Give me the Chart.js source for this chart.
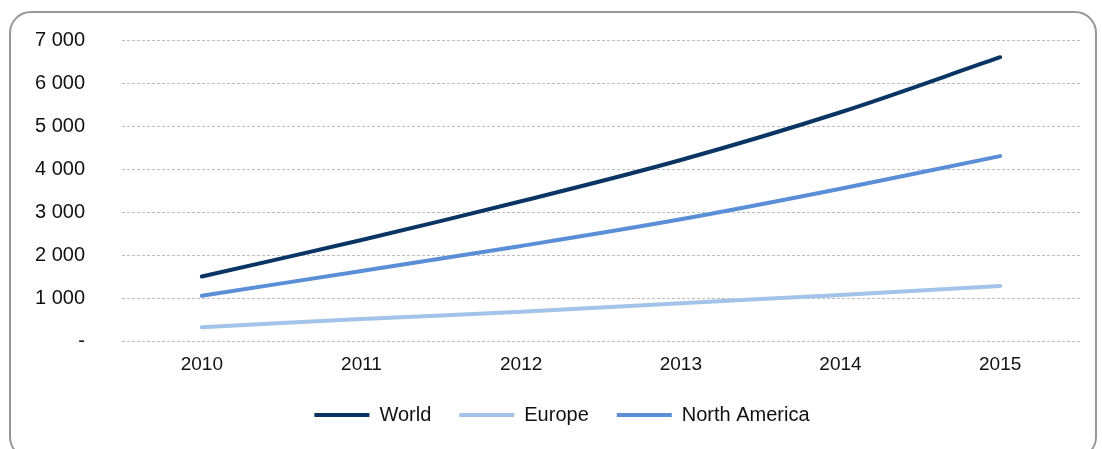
<!DOCTYPE html>
<html>
<head>
<meta charset="utf-8">
<script src="https://cdn.jsdelivr.net/npm/chart.js@4.4.1/dist/chart.umd.min.js"></script>
<style>
  html, body { margin: 0; padding: 0; background: #fff; width: 1102px; height: 449px; overflow: hidden; }
  #frame { position: absolute; left: 9px; top: 11px; width: 1088px; height: 448px; border: 2px solid #979797; border-radius: 22px; box-sizing: border-box; }
  #wrap { position: absolute; left: 0; top: 0; width: 1102px; height: 449px; }
</style>
</head>
<body>
<div id="frame"></div>
<div id="wrap"><canvas id="c" width="1102" height="449"></canvas></div>
<script>
const categories = ['2010', '2011', '2012', '2013', '2014', '2015'];
const worldValues = [1500, 2350, 3250, 4210, 5320, 6600];
const europeValues = [320, 510, 680, 880, 1070, 1280];
const northAmericaValues = [1050, 1630, 2210, 2830, 3540, 4300];
const yTickValues = [0, 1000, 2000, 3000, 4000, 5000, 6000, 7000];

function fmt(v) {
  if (v === 0) return '-';
  return String(v).replace(/\B(?=(\d{3})+(?!\d))/g, ' ');
}

const ds = (label, data, color) => ({
  label, data,
  borderColor: color, backgroundColor: color,
  borderWidth: 4, pointRadius: 0, pointHoverRadius: 0,
  tension: 0.35, borderCapStyle: 'round', fill: false
});

const shiftLegend = {
  id: 'shiftLegend',
  afterLayout(c) { c.legend.left += 22; c.legend.right += 22; }
};

new Chart(document.getElementById('c'), {
  type: 'line',
  data: {
    labels: categories,
    datasets: [
      ds('World', worldValues, '#0a3463'),
      ds('Europe', europeValues, '#a3c3ea'),
      ds('North America', northAmericaValues, '#5a8fd8')
    ]
  },
  plugins: [shiftLegend],
  options: {
    responsive: false,
    animation: false,
    devicePixelRatio: 1,
    layout: { padding: { top: 40, right: 22, bottom: 14, left: 0 } },
    plugins: {
      tooltip: { enabled: false },
      legend: {
        position: 'bottom',
        labels: {
          usePointStyle: true,
          pointStyle: 'line',
          pointStyleWidth: 55,
          padding: 28,
          color: '#111',
          font: { family: 'Liberation Sans, Arial, sans-serif', size: 20 }
        }
      }
    },
    scales: {
      x: {
        offset: true,
        grid: { display: false, drawTicks: false },
        border: { display: false },
        ticks: {
          padding: 12,
          color: '#111',
          maxRotation: 0,
          font: { family: 'Liberation Sans, Arial, sans-serif', size: 19 }
        },
        afterFit: (s) => { s.height = 36; }
      },
      y: {
        min: 0, max: 7000,
        afterBuildTicks: (s) => { s.ticks = yTickValues.map(v => ({ value: v })); },
        grid: { color: '#bdbdbd', lineWidth: 1, drawTicks: false },
        border: { display: false, dash: [3, 2] },
        ticks: {
          padding: 37,
          color: '#111',
          callback: (v) => fmt(v),
          font: { family: 'Liberation Sans, Arial, sans-serif', size: 20 }
        },
        afterFit: (s) => { s.width = 122; s.paddingTop = 0; s.paddingBottom = 0; }
      }
    }
  }
});
</script>
</body>
</html>
